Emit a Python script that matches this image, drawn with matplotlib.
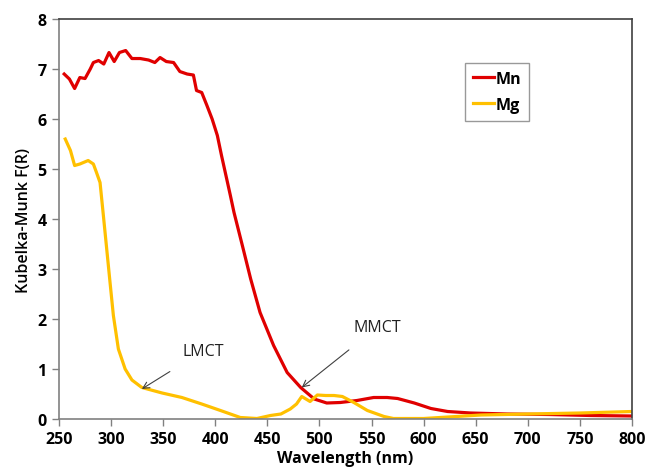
import matplotlib
matplotlib.use("Agg")
import matplotlib.pyplot as plt

# Data
mn_wl = [255, 260, 265, 270, 275, 280, 283, 288, 293, 298, 303, 308, 314, 320, 328, 336,
         342, 347, 353, 360, 366, 373, 379, 382, 387, 392, 397, 402, 406, 411, 414.5, 418,
         426, 434, 443, 456, 469, 482, 495, 507, 520, 536, 552, 565, 575, 591, 607, 623,
         645, 680, 720, 760, 800]
mn_val = [6.90, 6.80, 6.61, 6.83, 6.81, 7.00, 7.13, 7.17, 7.10, 7.33, 7.15, 7.33, 7.37, 7.21,
          7.21, 7.18, 7.13, 7.23, 7.15, 7.13, 6.95, 6.90, 6.88, 6.57, 6.53, 6.27, 6.00, 5.67,
          5.27, 4.80, 4.47, 4.13, 3.47, 2.80, 2.13, 1.47, 0.93, 0.63, 0.40, 0.32, 0.33, 0.37,
          0.43, 0.43, 0.41, 0.32, 0.21, 0.15, 0.12, 0.10, 0.09, 0.07, 0.06]

mg_wl = [256, 261, 265, 270, 278, 283, 286, 289.4, 292.6, 295.8, 299, 302.2, 307, 313.5,
         320, 329.5, 349, 368, 387, 405, 424, 440, 453, 463, 472, 478, 483, 491, 498, 506,
         514, 522, 533, 546, 562, 571, 600, 655, 700, 750, 800]
mg_val = [5.60, 5.37, 5.07, 5.10, 5.17, 5.10, 4.93, 4.73, 4.07, 3.40, 2.73, 2.07, 1.40, 1.00,
          0.78, 0.63, 0.52, 0.43, 0.30, 0.17, 0.03, 0.01, 0.07, 0.10, 0.20, 0.30, 0.45, 0.35,
          0.48, 0.47, 0.47, 0.45, 0.33, 0.17, 0.05, 0.01, 0.01, 0.08, 0.10, 0.12, 0.15]

x_ticks = [250, 300, 350, 400, 450, 500, 550, 600, 650, 700, 750, 800]
y_ticks = [0, 1, 2, 3, 4, 5, 6, 7, 8]

plt.rcParams['font.family'] = ['Open Sans', 'DejaVu Sans']

fig = plt.figure(figsize=(6.49, 4.77), dpi=100)
ax = fig.add_axes([0.0909, 0.1195, 0.8829, 0.8385])

ax.plot(mn_wl, mn_val, color='#E00000', lw=2.3, label='Mn', solid_joinstyle='round')
ax.plot(mg_wl, mg_val, color='#FFC000', lw=2.3, label='Mg', solid_joinstyle='round')

ax.set_xlim(250, 800)
ax.set_ylim(0, 8)
ax.set_xticks(x_ticks)
ax.set_yticks(y_ticks)
for lab in ax.get_xticklabels() + ax.get_yticklabels():
    lab.set_fontweight('bold')
    lab.set_fontsize(11.5)
ax.tick_params(direction='out', length=5, color='#808080', width=1, pad=4)

for s in ax.spines.values():
    s.set_color('#404040')
    s.set_linewidth(1.2)
ax.spines['left'].set_color('#808080')
ax.spines['bottom'].set_color('#808080')

ax.set_xlabel('Wavelength (nm)', fontsize=11.5, fontweight='bold', labelpad=2)
ax.set_ylabel('Kubelka-Munk F(R)', fontsize=11.5, fontweight='semibold', labelpad=4)

ax.annotate('LMCT', xy=(329.5, 0.6), xytext=(369, 1.37), fontsize=11.5,
            va='center', ha='left', color='#202020',
            arrowprops=dict(arrowstyle='->', color='#404040', lw=0.8,
                            shrinkA=14, shrinkB=0))
ax.annotate('MMCT', xy=(483, 0.63), xytext=(533, 1.84), fontsize=11.5,
            va='center', ha='left', color='#202020',
            arrowprops=dict(arrowstyle='->', color='#404040', lw=0.8,
                            shrinkA=14, shrinkB=0))

leg = ax.legend(loc='upper left', bbox_to_anchor=(0.709, 0.89),
                prop={'weight': 'bold', 'size': 11.5}, frameon=True, fancybox=False,
                handlelength=1.3, handletextpad=0.1, borderpad=0.5, labelspacing=0.6,
                borderaxespad=0)
leg.get_frame().set_edgecolor('#808080')
leg.get_frame().set_linewidth(1)

fig.savefig('out.png', dpi=100)
